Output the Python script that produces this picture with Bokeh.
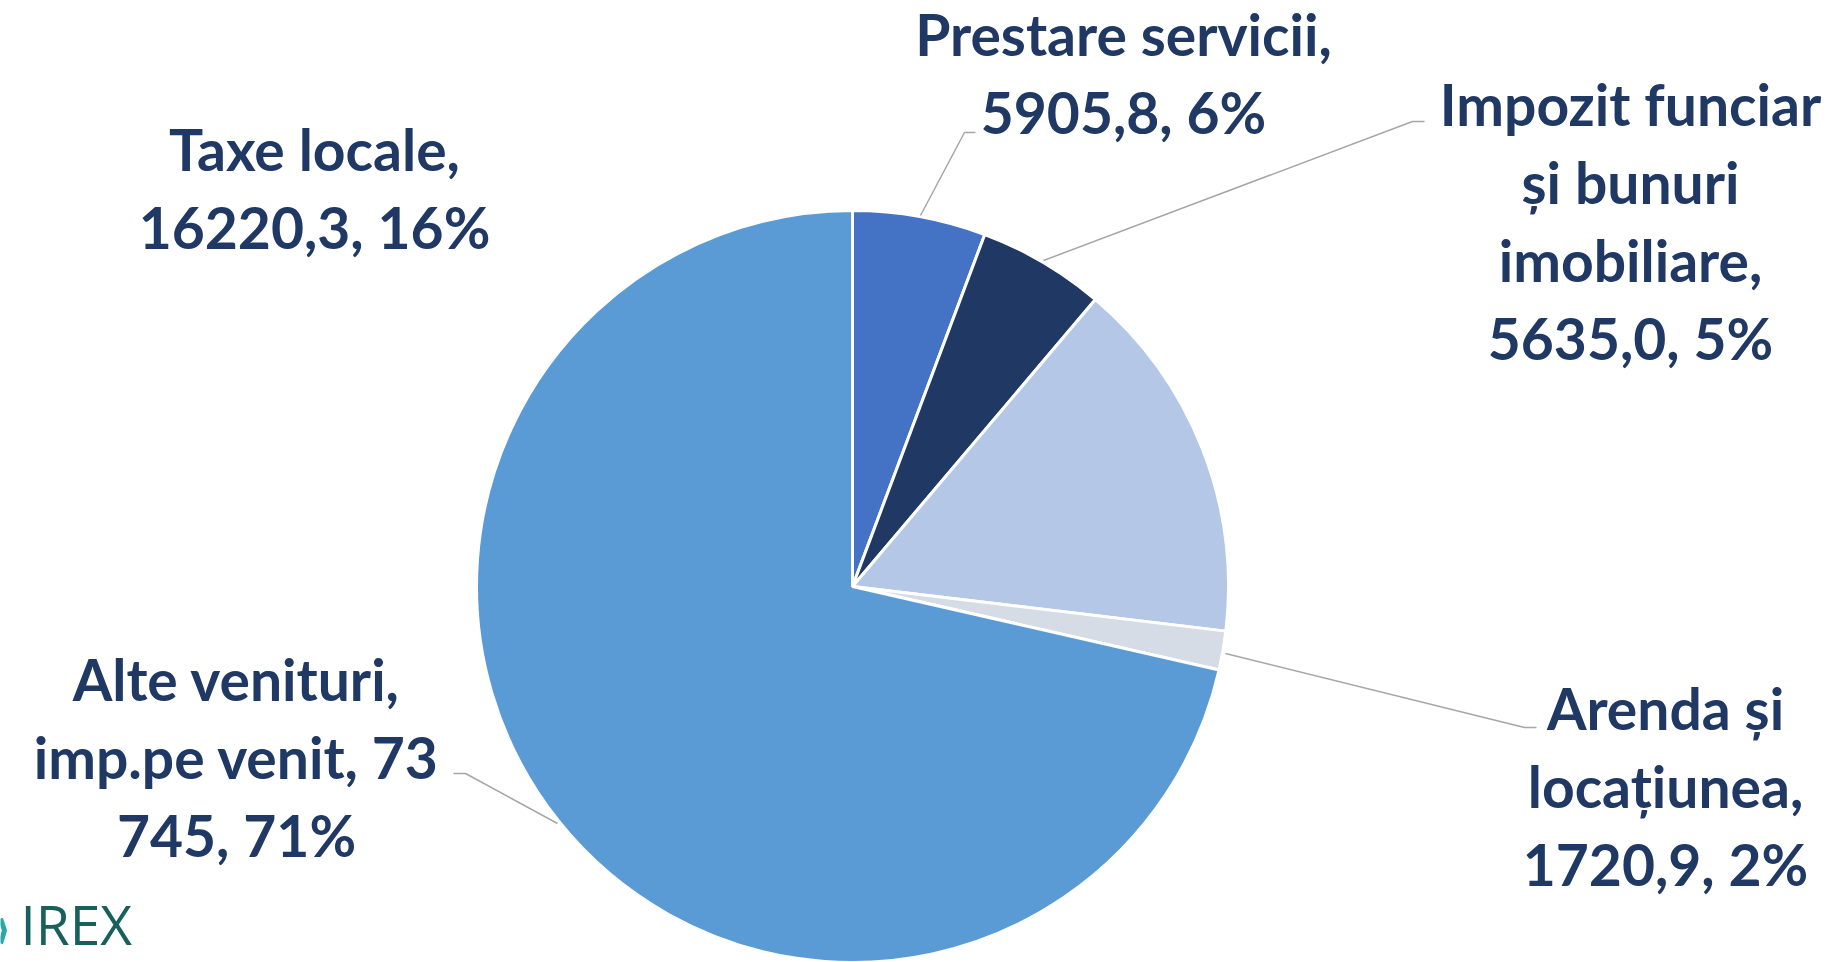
import math
from bokeh.plotting import figure
from bokeh.models import Range1d, ColumnDataSource
from bokeh.core.properties import value
from bokeh.embed import file_html
from bokeh.resources import INLINE

# ---- data ----
categories = ["Prestare servicii", "Impozit funciar și bunuri imobiliare",
              "Taxe locale", "Arenda și locațiunea", "Alte venituri, imp.pe venit"]
values = [5905.8, 5635.0, 16220.3, 1720.9, 73745.0]
percent_labels = ["6%", "5%", "16%", "2%", "71%"]
label_lines = [
    ["Prestare servicii,", "5905,8, 6%"],
    ["Impozit funciar", "și bunuri", "imobiliare,", "5635,0, 5%"],
    ["Taxe locale,", "16220,3, 16%"],
    ["Arenda și", "locațiunea,", "1720,9, 2%"],
    ["Alte venituri,", "imp.pe venit, 73", "745, 71%"],
]
colors = ["#4472C4", "#203864", "#B4C7E7", "#D6DCE5", "#5B9BD5"]

# ---- layout (screen pixels, y downward) ----
W, H = 1838, 962
CX, CY, R = 852, 586, 376
label_anchor = [(1123, 33), (1630, 103), (314, 148), (1665, 707), (236, 678)]
LINE_STEP = 78
leaders = [
    [(920, 215), (964, 132), (975, 132)],
    [(1043, 260), (1412, 121), (1424, 121)],
    None,
    [(1225, 653), (1524, 727), (1536, 727)],
    [(557, 823), (465, 773), (453, 773)],
]

def fy(y):
    return H - y

total = sum(values)
starts, ends = [], []
acc = 0.0
for v in values:
    starts.append(math.pi / 2 - 2 * math.pi * acc / total)
    acc += v
    ends.append(math.pi / 2 - 2 * math.pi * acc / total)

p = figure(width=W, height=H, output_backend="svg", toolbar_location=None,
           x_range=Range1d(0, W), y_range=Range1d(0, H),
           x_axis_type=None, y_axis_type=None, min_border=0,
           outline_line_color=None, background_fill_color="white",
           border_fill_color="white")
p.grid.visible = False

src = ColumnDataSource(dict(x=[CX] * len(values), y=[fy(CY)] * len(values),
                            start=starts, end=ends, color=colors, cat=categories,
                            val=values))
p.wedge(x="x", y="y", radius=R, start_angle="start", end_angle="end",
        direction="clock", fill_color="color", line_color="white",
        line_width=3, source=src)

# leader lines
for ld in leaders:
    if ld is None:
        continue
    p.line([pt[0] for pt in ld], [fy(pt[1]) for pt in ld],
           line_color="#A6A6A6", line_width=1.5)

# labels
tx, ty, tt = [], [], []
for (ax, ay), lines in zip(label_anchor, label_lines):
    for i, ln in enumerate(lines):
        tx.append(ax)
        ty.append(fy(ay + i * LINE_STEP))
        tt.append(ln)
p.text(x=tx, y=ty, text=tt, text_align="center", text_baseline="middle",
       text_font=value("Lato"), text_font_style="bold",
       text_font_size="57px", text_color="#203864")

# logo
p.text(x=[20], y=[fy(960)], text=["IREX"], text_align="left",
       text_baseline="bottom", text_font=value("Open Sans"),
       text_font_size="55px", text_color="#17605B")
p.line([0, 4, 0], [fy(918), fy(930), fy(943)], line_color="#2AA8A3", line_width=5)

open("out.html", "w").write(file_html(p, INLINE))
